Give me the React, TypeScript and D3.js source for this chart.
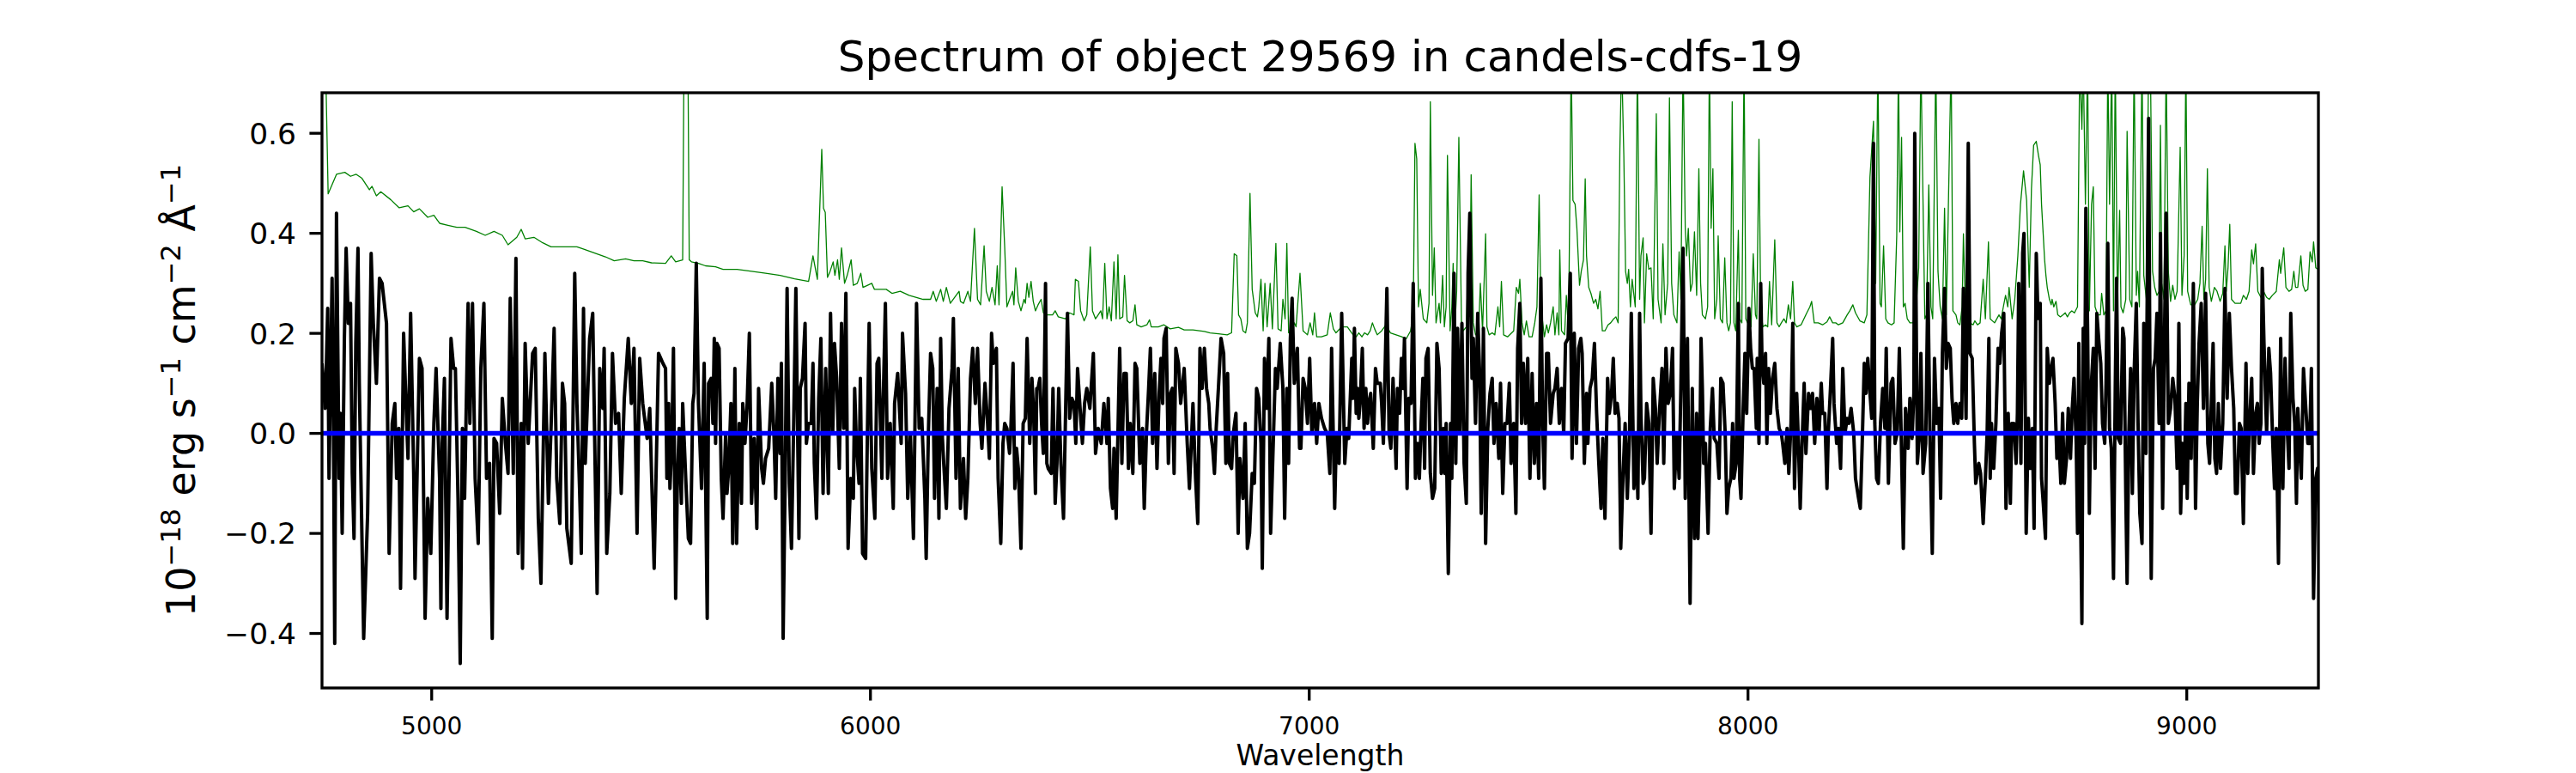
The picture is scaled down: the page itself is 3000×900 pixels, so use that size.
import * as d3 from 'd3'

// object flux (black) in six wavelength stretches
const spec4750: [number, number][] = [
  [4750, 0.14], [4757, 0.05], [4760, 0.14], [4763, 0.25], [4766, -0.09], [4773, 0.31], [4776, 0.04], [4779, -0.42],
  [4783, 0.44], [4789, -0.09], [4792, 0.04], [4796, -0.2], [4801, 0.19], [4805, 0.37], [4810, 0.22], [4815, 0.26],
  [4819, -0.08], [4823, -0.21], [4827, 0.18], [4832, 0.37], [4835, 0.1], [4845, -0.41], [4854, -0.16], [4858, 0.1],
  [4862, 0.36], [4867, 0.22], [4874, 0.1], [4881, 0.31], [4887, 0.3], [4897, 0.22], [4903, -0.24], [4910, 0.02],
  [4916, 0.06], [4920, -0.09], [4925, 0.01], [4929, -0.31], [4936, 0.2], [4943, 0.02], [4946, -0.05], [4952, 0.24],
  [4959, -0.08], [4962, -0.29], [4972, 0.15], [4978, 0.13], [4985, -0.37], [4991, -0.13], [4998, -0.24], [5005, 0.02],
  [5010, 0.13], [5018, -0.09], [5021, -0.35], [5024, -0.02], [5029, 0.11], [5035, -0.37], [5044, 0.19], [5050, 0.13],
  [5054, 0.13], [5060, -0.13], [5065, -0.46], [5070, 0.01], [5075, -0.13], [5083, 0.26], [5087, 0.02], [5093, 0.26],
  [5099, -0.09], [5106, -0.22], [5112, 0.13], [5119, 0.26], [5125, -0.09], [5132, -0.06], [5138, -0.41], [5142, -0.01],
  [5148, -0.02], [5155, -0.16], [5161, 0.07], [5168, -0.02], [5174, -0.08], [5179, 0.27], [5186, -0.08], [5192, 0.35],
  [5197, -0.24], [5204, 0.02], [5207, -0.27], [5213, 0.18], [5220, -0.02], [5230, 0.16], [5236, 0.17], [5243, -0.17],
  [5249, -0.3], [5258, 0.16], [5266, -0.14], [5272, 0.01], [5279, 0.21], [5285, -0.09], [5292, -0.18], [5298, 0.1],
  [5303, 0.06], [5308, -0.19], [5318, -0.26], [5326, 0.32], [5331, 0.06], [5337, -0.11], [5341, -0.24], [5346, 0.25],
  [5350, -0.06], [5360, 0.19], [5367, 0.24], [5377, -0.32], [5383, 0.13], [5390, 0.05], [5393, 0.17], [5399, -0.24],
  [5406, -0.12], [5412, 0.16], [5419, 0.02], [5426, 0.04], [5432, -0.12], [5439, 0.07], [5448, 0.19], [5455, 0.06],
  [5461, 0.17], [5468, -0.2], [5474, 0.15], [5481, 0.06], [5491, -0.01], [5497, 0.05], [5507, -0.27], [5517, 0.16],
  [5527, 0.14],
]

const spec5533: [number, number][] = [
  [5533, 0.13], [5536, -0.09], [5540, 0.06], [5543, -0.11], [5547, -0.03], [5551, 0.17], [5556, -0.33], [5560, -0.09],
  [5564, 0.01], [5569, -0.14], [5572, 0.06], [5579, -0.09], [5585, -0.21], [5590, -0.22], [5595, 0.06], [5598, 0.08],
  [5603, 0.34], [5608, 0.06], [5615, -0.11], [5621, 0.14], [5628, -0.37], [5631, 0.1], [5637, 0.11], [5641, 0.02],
  [5644, 0.19], [5647, -0.02], [5650, 0.18], [5655, 0.17], [5660, -0.09], [5664, -0.17], [5670, 0.0], [5673, -0.12],
  [5677, -0.07], [5682, 0.06], [5686, -0.22], [5691, 0.13], [5695, -0.22], [5697, -0.13], [5701, 0.02], [5706, -0.14],
  [5709, 0.06], [5714, -0.02], [5719, 0.06], [5724, 0.2], [5729, -0.14], [5735, -0.01], [5741, -0.19], [5745, 0.09],
  [5752, -0.07], [5756, -0.1], [5761, -0.05], [5768, -0.03], [5775, 0.1], [5780, 0.0], [5784, -0.13], [5789, 0.11],
  [5794, -0.04], [5797, 0.14], [5801, -0.41], [5806, -0.06], [5810, 0.29], [5815, -0.1], [5820, -0.23], [5825, 0.02],
  [5830, 0.29], [5837, -0.21], [5840, 0.09], [5845, 0.11], [5851, 0.22], [5854, -0.02], [5859, 0.02], [5865, 0.02],
  [5869, 0.14], [5872, -0.06], [5877, -0.17], [5882, 0.07], [5887, 0.19], [5892, -0.12], [5898, 0.13], [5904, -0.12],
  [5909, 0.24], [5914, 0.0], [5918, 0.18], [5923, 0.11], [5929, -0.07], [5934, 0.22], [5939, 0.01], [5944, 0.28],
  [5949, -0.23], [5955, -0.09], [5961, -0.13], [5964, 0.09], [5968, -0.02], [5974, -0.1], [5977, 0.11], [5982, -0.24],
  [5989, -0.25], [5993, 0.0], [5997, 0.22], [6003, -0.07], [6010, -0.17], [6015, 0.14], [6019, 0.15], [6026, -0.09],
  [6029, 0.06], [6034, 0.26], [6039, -0.09], [6045, 0.02], [6052, -0.15], [6055, 0.06], [6062, 0.12], [6070, -0.02],
  [6073, 0.2], [6080, 0.08], [6085, -0.13], [6091, 0.0], [6098, -0.21], [6105, 0.26], [6111, 0.01], [6117, 0.03],
  [6124, -0.13], [6127, -0.25], [6132, 0.0], [6137, 0.16], [6142, 0.13], [6146, -0.13], [6152, 0.09], [6156, -0.17],
  [6160, 0.19], [6164, -0.01], [6167, -0.06], [6173, -0.15], [6179, 0.05], [6186, 0.13], [6189, 0.23], [6195, -0.09],
  [6200, 0.13], [6205, -0.15], [6212, -0.05], [6217, -0.17], [6222, -0.09], [6228, 0.11], [6233, 0.17], [6239, 0.06],
  [6244, 0.17], [6250, 0.02], [6254, -0.03], [6261, 0.1], [6267, 0.02], [6271, -0.05], [6276, 0.2], [6280, 0.14],
  [6287, 0.17], [6291, -0.09], [6297, -0.22], [6302, -0.02], [6306, 0.02], [6311, 0.01],
]

const spec6317: [number, number][] = [
  [6317, -0.04], [6320, 0.01], [6325, 0.14], [6329, -0.11], [6333, -0.03], [6337, -0.07], [6343, -0.23], [6348, 0.02],
  [6353, 0.03], [6357, 0.19], [6363, -0.02], [6368, 0.11], [6372, 0.04], [6376, -0.12], [6379, 0.09], [6382, 0.09],
  [6386, 0.11], [6390, 0.02], [6394, -0.04], [6399, 0.3], [6402, -0.06], [6405, -0.07], [6412, -0.08], [6416, 0.09],
  [6421, -0.14], [6425, -0.06], [6429, 0.09], [6434, -0.06], [6440, -0.17], [6444, 0.01], [6449, 0.24], [6454, 0.03],
  [6459, 0.07], [6464, 0.06], [6468, -0.02], [6472, 0.13], [6477, 0.06], [6483, -0.02], [6488, 0.06], [6493, 0.09],
  [6500, 0.05], [6508, 0.16], [6513, -0.04], [6519, 0.01], [6526, -0.02], [6532, 0.06], [6539, -0.02], [6542, 0.07],
  [6547, -0.11], [6552, -0.15], [6555, -0.03], [6560, -0.17], [6564, 0.0], [6568, 0.17], [6573, -0.06], [6578, 0.12],
  [6583, 0.12], [6588, -0.07], [6592, 0.02], [6598, -0.08], [6603, 0.14], [6607, 0.13], [6614, -0.06], [6620, 0.01],
  [6624, -0.15], [6629, 0.0], [6634, 0.09], [6638, 0.17], [6643, -0.02], [6648, 0.12], [6653, -0.07], [6658, 0.08],
  [6662, 0.15], [6666, 0.06], [6669, 0.19], [6674, 0.21], [6679, -0.06], [6684, 0.08], [6688, 0.09], [6692, -0.08],
  [6696, 0.17], [6702, 0.14], [6707, 0.06], [6715, 0.13], [6722, -0.02], [6727, -0.11], [6735, 0.06], [6741, -0.09],
  [6746, -0.18], [6751, 0.17], [6756, 0.09], [6761, 0.17], [6766, 0.09], [6771, 0.06], [6774, 0.01], [6780, -0.03],
  [6784, -0.08], [6788, 0.01], [6793, 0.09], [6799, 0.19], [6805, 0.16], [6810, -0.06], [6814, 0.12], [6818, -0.06],
  [6823, -0.07], [6827, 0.0], [6833, 0.04], [6838, -0.2], [6842, -0.05], [6849, -0.13], [6854, 0.02], [6859, -0.23],
  [6864, -0.2], [6870, -0.08], [6875, -0.1], [6880, 0.09], [6885, 0.07], [6890, -0.02], [6893, -0.27], [6898, 0.15],
  [6903, 0.05], [6908, 0.19], [6912, -0.2], [6917, -0.05], [6923, 0.13], [6927, 0.09], [6934, 0.18], [6940, 0.09],
  [6944, -0.17], [6949, 0.09], [6953, -0.06], [6957, 0.19], [6961, 0.27], [6966, 0.1], [6973, 0.17], [6978, -0.03],
  [6981, -0.03], [6986, 0.11], [6991, 0.09], [6996, 0.02], [7001, 0.15], [7006, 0.0], [7012, 0.06], [7017, -0.02],
  [7022, 0.06], [7028, 0.03], [7035, 0.01], [7041, 0.0], [7047, -0.08], [7051, 0.17], [7058, -0.15], [7062, 0.0],
  [7068, -0.06], [7074, 0.24], [7081, -0.06], [7086, 0.01], [7090, -0.01], [7097, 0.15],
]

const spec7100: [number, number][] = [
  [7100, 0.07], [7103, 0.21], [7107, 0.04], [7110, 0.09], [7113, 0.03], [7116, 0.06], [7121, 0.17], [7125, 0.01],
  [7129, 0.09], [7133, 0.02], [7136, 0.06], [7140, 0.08], [7146, -0.03], [7151, 0.13], [7155, 0.1], [7162, 0.1],
  [7165, 0.06], [7169, -0.02], [7173, 0.13], [7177, 0.29], [7182, 0.0], [7186, -0.03], [7191, 0.11], [7198, -0.07],
  [7201, 0.09], [7206, 0.04], [7210, 0.15], [7214, 0.09], [7217, 0.19], [7223, -0.11], [7227, 0.07], [7232, 0.06],
  [7237, 0.3], [7242, -0.09], [7247, -0.02], [7251, -0.09], [7255, 0.02], [7259, 0.11], [7263, -0.07], [7266, 0.15],
  [7271, 0.17], [7276, -0.08], [7281, -0.13], [7286, -0.11], [7291, 0.18], [7296, 0.13], [7301, -0.08], [7306, 0.01],
  [7309, -0.08], [7312, 0.02], [7317, -0.28], [7322, 0.02], [7325, -0.09], [7330, 0.32], [7334, -0.06], [7338, 0.21],
  [7343, 0.0], [7348, 0.22], [7353, -0.06], [7358, -0.14], [7362, 0.32], [7366, 0.44], [7371, 0.11], [7374, 0.19],
  [7379, 0.02], [7384, 0.24], [7388, 0.13], [7392, -0.16], [7397, 0.21], [7402, -0.22], [7407, 0.01], [7412, 0.08],
  [7417, 0.11], [7421, -0.02], [7426, 0.06], [7432, -0.05], [7436, 0.1], [7441, -0.12], [7446, 0.02], [7451, 0.02],
  [7456, 0.1], [7460, -0.06], [7466, 0.02], [7471, -0.16], [7475, 0.17], [7480, 0.26], [7484, 0.02], [7488, 0.14],
  [7493, 0.02], [7498, 0.15], [7503, -0.09], [7508, 0.12], [7513, -0.06], [7518, 0.06], [7523, -0.09], [7528, 0.31],
  [7532, 0.02], [7536, -0.11], [7541, 0.16], [7545, 0.16], [7550, 0.02], [7556, 0.08], [7560, 0.09], [7565, 0.13],
  [7570, 0.02], [7575, 0.09], [7580, 0.0], [7584, 0.18], [7590, 0.19], [7595, 0.32], [7599, -0.05], [7604, 0.2],
  [7609, -0.02], [7614, 0.17], [7619, 0.19], [7622, 0.16], [7627, -0.06], [7632, 0.08], [7635, -0.02], [7640, 0.09],
  [7645, 0.11], [7650, 0.18], [7655, 0.04], [7660, -0.06], [7665, -0.15], [7669, -0.01], [7674, -0.17], [7680, 0.11],
  [7684, 0.04], [7689, 0.08], [7693, 0.15], [7697, 0.04], [7702, 0.06], [7706, 0.03], [7710, -0.23], [7715, -0.09],
  [7720, 0.02], [7725, -0.13], [7730, 0.0], [7734, 0.24], [7740, -0.11], [7745, 0.0], [7749, -0.13], [7753, 0.24],
  [7756, 0.04], [7761, -0.1], [7764, -0.09], [7769, 0.06], [7774, 0.02], [7779, -0.2], [7784, 0.11], [7789, 0.05],
  [7793, -0.06], [7798, 0.04], [7804, 0.13], [7808, -0.06], [7813, 0.17], [7818, 0.06], [7823, 0.08], [7828, 0.17],
  [7832, -0.11], [7838, 0.0], [7843, -0.09], [7847, 0.09], [7852, 0.37], [7857, -0.13], [7862, 0.19], [7868, -0.34],
  [7873, 0.09], [7878, -0.21],
]

const spec7883: [number, number][] = [
  [7883, 0.04], [7886, -0.21], [7890, -0.06], [7893, 0.19], [7896, 0.09], [7899, -0.06], [7903, -0.02], [7909, -0.2],
  [7914, 0.01], [7919, 0.09], [7923, -0.01], [7929, -0.02], [7934, -0.09], [7938, 0.11], [7943, 0.1], [7948, 0.0],
  [7952, -0.16], [7956, -0.11], [7961, -0.09], [7965, 0.02], [7968, -0.09], [7973, -0.06], [7978, 0.26], [7981, -0.09],
  [7984, -0.13], [7989, 0.05], [7993, 0.16], [7997, 0.04], [8002, 0.25], [8006, 0.17], [8010, 0.13], [8014, 0.13],
  [8019, 0.01], [8021, 0.15], [8025, -0.02], [8029, 0.3], [8032, 0.14], [8036, 0.1], [8040, 0.16], [8043, -0.02],
  [8047, 0.13], [8051, 0.04], [8056, 0.11], [8061, 0.14], [8066, 0.05], [8071, 0.01], [8076, 0.0], [8079, -0.02],
  [8084, -0.06], [8089, 0.01], [8093, -0.08], [8098, 0.02], [8102, 0.22], [8106, -0.11], [8111, 0.08], [8115, -0.02],
  [8119, -0.15], [8124, 0.0], [8128, 0.1], [8132, -0.04], [8138, 0.08], [8143, 0.05], [8147, 0.08], [8152, -0.02],
  [8157, 0.07], [8162, 0.0], [8167, 0.1], [8170, 0.04], [8175, 0.04], [8180, -0.11], [8183, 0.0], [8188, 0.09],
  [8193, 0.19], [8196, 0.06], [8202, -0.02], [8206, 0.01], [8211, -0.07], [8216, 0.13], [8221, 0.0], [8226, 0.03],
  [8230, 0.02], [8235, 0.05], [8241, 0.0], [8245, -0.09], [8252, -0.13], [8256, -0.15], [8260, -0.03], [8265, 0.14],
  [8269, 0.08], [8273, 0.15], [8278, 0.08], [8282, 0.03], [8286, 0.58], [8289, 0.02], [8293, -0.09], [8297, -0.1],
  [8302, 0.02], [8307, 0.09], [8312, 0.01], [8315, 0.17], [8320, -0.1], [8326, 0.1], [8330, 0.11], [8335, -0.02],
  [8340, 0.0], [8345, 0.17], [8350, -0.04], [8354, -0.23], [8359, 0.05], [8365, -0.03], [8369, 0.07], [8374, -0.01],
  [8378, 0.08], [8380, 0.6], [8386, -0.06], [8391, 0.0], [8394, 0.16], [8399, -0.08], [8405, -0.02], [8410, 0.3],
  [8415, -0.02], [8420, -0.24], [8425, 0.15], [8430, 0.02], [8435, 0.05], [8439, -0.13], [8443, 0.16], [8448, 0.29],
  [8452, 0.13], [8456, 0.18], [8461, 0.17], [8465, 0.07], [8469, 0.02], [8474, 0.06], [8478, 0.02], [8483, 0.06],
  [8487, 0.03], [8491, 0.29], [8497, 0.03], [8502, 0.58], [8506, 0.16], [8511, 0.15], [8516, -0.02], [8519, -0.1],
  [8526, -0.06], [8530, -0.08], [8536, -0.18], [8541, -0.09], [8545, 0.0], [8549, 0.19], [8552, -0.09], [8555, 0.02],
  [8560, -0.07], [8565, 0.02], [8570, 0.17], [8574, 0.14], [8578, 0.2], [8583, 0.24], [8588, -0.15], [8593, 0.04],
  [8598, -0.14], [8601, 0.02], [8606, 0.02], [8611, -0.06], [8614, 0.04], [8617, 0.3], [8622, -0.06], [8626, 0.36],
  [8629, 0.4], [8634, -0.2], [8639, 0.03], [8643, -0.07], [8648, 0.01], [8652, -0.19], [8657, 0.36], [8661, 0.23],
]

const spec8666: [number, number][] = [
  [8666, 0.26], [8669, -0.09], [8673, -0.14], [8678, -0.21], [8682, 0.17], [8687, 0.1], [8691, 0.13], [8695, 0.15],
  [8700, 0.06], [8704, -0.05], [8708, 0.0], [8713, -0.1], [8717, 0.04], [8721, -0.1], [8726, -0.05], [8730, 0.05],
  [8735, -0.05], [8739, 0.05], [8743, 0.11], [8748, -0.02], [8751, -0.2], [8754, 0.18], [8756, -0.01], [8761, -0.38],
  [8764, 0.21], [8767, -0.02], [8770, 0.45], [8774, 0.21], [8778, -0.16], [8782, 0.09], [8787, 0.17], [8791, -0.07],
  [8795, 0.24], [8800, 0.18], [8804, 0.14], [8808, 0.02], [8813, -0.02], [8816, 0.1], [8820, 0.38], [8824, 0.01],
  [8828, -0.03], [8833, -0.29], [8837, 0.09], [8840, 0.31], [8844, -0.01], [8849, -0.02], [8854, 0.21], [8857, 0.19],
  [8861, -0.12], [8864, -0.3], [8868, 0.0], [8872, 0.13], [8876, -0.12], [8880, 0.12], [8885, 0.26], [8889, 0.02],
  [8893, -0.16], [8898, -0.22], [8902, 0.22], [8907, -0.04], [8913, 0.63], [8917, -0.04], [8919, -0.29], [8924, 0.13],
  [8928, 0.15], [8932, 0.24], [8937, 0.02], [8940, 0.4], [8945, -0.15], [8950, 0.25], [8953, 0.44], [8958, 0.02],
  [8963, 0.05], [8968, 0.11], [8973, 0.07], [8978, -0.07], [8982, 0.22], [8986, -0.16], [8990, -0.02], [8994, -0.1],
  [8998, 0.06], [9001, -0.13], [9005, 0.1], [9010, -0.05], [9015, 0.3], [9020, -0.15], [9024, 0.06], [9028, 0.18],
  [9033, 0.26], [9038, 0.05], [9043, 0.28], [9048, -0.02], [9052, -0.06], [9056, 0.06], [9060, 0.18], [9064, -0.05],
  [9068, -0.08], [9072, 0.06], [9077, -0.07], [9082, 0.02], [9087, 0.29], [9092, 0.07], [9097, 0.24], [9102, 0.13],
  [9107, 0.05], [9111, -0.12], [9115, -0.12], [9120, 0.02], [9124, 0.01], [9129, -0.18], [9135, 0.14], [9139, -0.08],
  [9142, 0.0], [9148, 0.11], [9152, -0.08], [9157, 0.04], [9161, 0.06], [9165, -0.02], [9169, 0.02], [9172, 0.33],
  [9176, 0.18], [9182, 0.0], [9187, 0.17], [9191, 0.12], [9196, -0.02], [9200, -0.11], [9204, 0.01], [9209, -0.26],
  [9214, 0.19], [9219, -0.11], [9224, 0.15], [9229, 0.01], [9233, -0.07], [9237, 0.24], [9242, 0.07], [9246, 0.02],
  [9250, -0.14], [9253, 0.05], [9257, -0.02], [9261, -0.09], [9266, 0.13], [9272, 0.04], [9276, -0.02], [9280, -0.02],
  [9284, 0.13], [9289, -0.33], [9294, -0.09], [9298, -0.07], [9302, -0.16],
]

// noise / sky spectrum (green); sky lines running off the top are given as 0.75
const sky4750: [number, number][] = [
  [4751, 0.75], [4758, 0.75], [4764, 0.479], [4783, 0.518], [4802, 0.522], [4815, 0.514], [4828, 0.518], [4841, 0.51],
  [4858, 0.487], [4864, 0.494], [4874, 0.475], [4884, 0.483], [4907, 0.467], [4926, 0.451], [4946, 0.455], [4959, 0.443],
  [4972, 0.449], [4991, 0.432], [5005, 0.436], [5018, 0.42], [5037, 0.416], [5057, 0.412], [5076, 0.412], [5102, 0.404],
  [5122, 0.396], [5142, 0.404], [5161, 0.396], [5174, 0.377], [5194, 0.392], [5204, 0.408], [5213, 0.389], [5233, 0.392],
  [5253, 0.381], [5272, 0.373], [5305, 0.373], [5331, 0.373], [5344, 0.369], [5370, 0.361], [5396, 0.353], [5416, 0.345],
  [5442, 0.349], [5461, 0.345], [5481, 0.345], [5501, 0.341],
]

const sky5533: [number, number][] = [
  [5533, 0.34], [5546, 0.355], [5556, 0.343], [5572, 0.347], [5575, 0.75], [5584, 0.75], [5587, 0.347], [5592, 0.343],
  [5608, 0.34], [5624, 0.335], [5647, 0.333], [5664, 0.328], [5696, 0.328], [5729, 0.324], [5761, 0.32], [5794, 0.316],
  [5827, 0.309], [5859, 0.304], [5869, 0.355], [5879, 0.308], [5889, 0.568], [5893, 0.45], [5897, 0.442], [5902, 0.312],
  [5908, 0.324], [5915, 0.343], [5919, 0.316], [5925, 0.347], [5929, 0.308], [5934, 0.371], [5941, 0.3], [5947, 0.316],
  [5956, 0.347], [5961, 0.296], [5970, 0.3], [5978, 0.32], [5983, 0.292], [6003, 0.3], [6009, 0.288], [6036, 0.288],
  [6049, 0.28], [6068, 0.284], [6088, 0.276], [6120, 0.268], [6137, 0.268], [6143, 0.284], [6150, 0.264], [6160, 0.288],
  [6166, 0.264], [6173, 0.292], [6182, 0.26], [6202, 0.284], [6205, 0.264], [6212, 0.26], [6222, 0.284], [6228, 0.264],
  [6237, 0.41], [6244, 0.268], [6251, 0.257], [6259, 0.375], [6264, 0.284], [6271, 0.264], [6277, 0.292], [6284, 0.257],
  [6289, 0.335], [6293, 0.257], [6300, 0.493], [6306, 0.371], [6311, 0.253],
]

const sky6317: [number, number][] = [
  [6317, 0.268], [6324, 0.284], [6327, 0.257], [6331, 0.331], [6337, 0.264], [6343, 0.245], [6350, 0.268], [6353, 0.26],
  [6357, 0.3], [6361, 0.272], [6366, 0.304], [6371, 0.264], [6376, 0.245], [6382, 0.257], [6389, 0.268], [6394, 0.241],
  [6402, 0.237], [6415, 0.237], [6421, 0.245], [6428, 0.233], [6444, 0.229], [6454, 0.241], [6464, 0.237], [6467, 0.308],
  [6474, 0.304], [6479, 0.245], [6487, 0.225], [6493, 0.237], [6501, 0.373], [6506, 0.245], [6513, 0.229], [6519, 0.237],
  [6525, 0.245], [6529, 0.229], [6534, 0.34], [6539, 0.229], [6544, 0.253], [6549, 0.225], [6555, 0.343], [6560, 0.229],
  [6564, 0.357], [6568, 0.229], [6575, 0.233], [6579, 0.316], [6585, 0.225], [6591, 0.221], [6598, 0.225], [6603, 0.257],
  [6607, 0.217], [6617, 0.213], [6630, 0.217], [6636, 0.227], [6640, 0.213], [6656, 0.213], [6669, 0.217], [6683, 0.209],
  [6702, 0.212], [6715, 0.207], [6735, 0.207], [6761, 0.204], [6774, 0.201], [6793, 0.199], [6813, 0.197], [6823, 0.201],
  [6829, 0.359], [6835, 0.355], [6839, 0.237], [6844, 0.229], [6849, 0.205], [6855, 0.201], [6859, 0.221], [6865, 0.48],
  [6870, 0.288], [6877, 0.241], [6882, 0.233], [6885, 0.253], [6890, 0.308], [6895, 0.205], [6899, 0.3], [6904, 0.213],
  [6911, 0.3], [6916, 0.209], [6924, 0.38], [6929, 0.209], [6936, 0.205], [6940, 0.268], [6945, 0.229], [6949, 0.38],
  [6953, 0.201], [6960, 0.205], [6966, 0.221], [6970, 0.213], [6979, 0.32], [6986, 0.205], [6996, 0.197], [7002, 0.221],
  [7008, 0.197], [7012, 0.241], [7017, 0.193], [7028, 0.193], [7041, 0.197], [7048, 0.241], [7055, 0.209], [7061, 0.201],
  [7074, 0.213], [7087, 0.213],
]

const sky7100: [number, number][] = [
  [7100, 0.197], [7107, 0.193], [7113, 0.201], [7120, 0.193], [7126, 0.201], [7133, 0.197], [7139, 0.205], [7144, 0.221],
  [7149, 0.209], [7155, 0.197], [7165, 0.205], [7175, 0.217], [7185, 0.201], [7198, 0.197], [7211, 0.193], [7221, 0.189],
  [7231, 0.205], [7237, 0.237], [7241, 0.58], [7245, 0.549], [7249, 0.253], [7253, 0.288], [7260, 0.229], [7268, 0.221],
  [7273, 0.26], [7276, 0.663], [7281, 0.276], [7285, 0.371], [7289, 0.221], [7296, 0.26], [7299, 0.221], [7304, 0.316],
  [7308, 0.213], [7312, 0.253], [7315, 0.556], [7321, 0.205], [7325, 0.253], [7328, 0.34], [7332, 0.213], [7336, 0.284],
  [7341, 0.592], [7347, 0.221], [7351, 0.205], [7358, 0.213], [7362, 0.331], [7366, 0.257], [7369, 0.517], [7374, 0.221],
  [7379, 0.197], [7386, 0.205], [7390, 0.3], [7395, 0.205], [7402, 0.399], [7405, 0.213], [7410, 0.197], [7417, 0.201],
  [7423, 0.197], [7430, 0.253], [7434, 0.213], [7438, 0.304], [7443, 0.197], [7452, 0.193], [7466, 0.205], [7472, 0.292],
  [7477, 0.28], [7480, 0.308], [7485, 0.221], [7490, 0.197], [7495, 0.225], [7501, 0.193], [7508, 0.193], [7514, 0.221],
  [7519, 0.253], [7524, 0.477], [7528, 0.253], [7536, 0.193], [7541, 0.217], [7545, 0.201], [7550, 0.221], [7556, 0.253],
  [7560, 0.197], [7565, 0.241], [7569, 0.197], [7571, 0.367], [7575, 0.205], [7582, 0.197], [7586, 0.276], [7591, 0.205],
  [7597, 0.75], [7601, 0.466], [7606, 0.458], [7610, 0.41], [7616, 0.296], [7620, 0.324], [7625, 0.347], [7629, 0.509],
  [7632, 0.355], [7637, 0.292], [7642, 0.28], [7648, 0.26], [7653, 0.268], [7658, 0.249], [7663, 0.284], [7668, 0.205],
  [7674, 0.205], [7681, 0.217], [7687, 0.221], [7694, 0.229], [7699, 0.233], [7704, 0.221], [7708, 0.568], [7712, 0.75],
  [7717, 0.556], [7721, 0.324], [7725, 0.3], [7728, 0.328], [7732, 0.253], [7736, 0.308], [7743, 0.253], [7748, 0.75],
  [7753, 0.268], [7756, 0.355], [7761, 0.391], [7764, 0.221], [7769, 0.359], [7774, 0.328], [7779, 0.331], [7784, 0.229],
  [7791, 0.639], [7795, 0.268], [7802, 0.221], [7806, 0.379], [7811, 0.237], [7817, 0.3], [7821, 0.671], [7826, 0.3],
  [7831, 0.237], [7838, 0.221], [7843, 0.363], [7847, 0.268], [7852, 0.75], [7857, 0.41], [7860, 0.355], [7864, 0.41],
  [7869, 0.284], [7873, 0.3], [7878, 0.403],
]

const sky7883: [number, number][] = [
  [7883, 0.276], [7888, 0.529], [7892, 0.3], [7896, 0.237], [7903, 0.229], [7908, 0.253], [7912, 0.75], [7916, 0.41],
  [7920, 0.529], [7924, 0.229], [7929, 0.268], [7932, 0.395], [7937, 0.229], [7942, 0.221], [7947, 0.351], [7952, 0.221],
  [7956, 0.205], [7960, 0.221], [7964, 0.663], [7968, 0.221], [7972, 0.205], [7978, 0.406], [7981, 0.229], [7986, 0.221],
  [7991, 0.75], [7995, 0.229], [7999, 0.221], [8007, 0.213], [8012, 0.359], [8017, 0.237], [8020, 0.229], [8025, 0.588],
  [8029, 0.245], [8034, 0.213], [8040, 0.217], [8045, 0.213], [8049, 0.304], [8054, 0.217], [8061, 0.387], [8066, 0.221],
  [8071, 0.213], [8076, 0.221], [8082, 0.229], [8087, 0.221], [8092, 0.257], [8097, 0.229], [8102, 0.304], [8106, 0.221],
  [8111, 0.213], [8121, 0.217], [8134, 0.241], [8141, 0.253], [8145, 0.264], [8151, 0.221], [8160, 0.221], [8170, 0.217],
  [8180, 0.223], [8186, 0.233], [8193, 0.221], [8200, 0.221], [8206, 0.217], [8216, 0.221], [8226, 0.237], [8232, 0.245],
  [8239, 0.257], [8245, 0.241], [8255, 0.225], [8265, 0.221], [8271, 0.237], [8278, 0.513], [8282, 0.568], [8286, 0.624],
  [8291, 0.3], [8296, 0.75], [8301, 0.26], [8304, 0.253], [8309, 0.375], [8314, 0.229], [8319, 0.221], [8327, 0.217],
  [8333, 0.221], [8339, 0.395], [8343, 0.75], [8346, 0.403], [8350, 0.592], [8354, 0.253], [8358, 0.26], [8363, 0.229],
  [8369, 0.221], [8376, 0.221], [8382, 0.237], [8389, 0.331], [8394, 0.75], [8399, 0.458], [8403, 0.229], [8407, 0.237],
  [8412, 0.497], [8417, 0.253], [8421, 0.229], [8428, 0.75], [8433, 0.324], [8438, 0.253], [8443, 0.229], [8448, 0.45],
  [8452, 0.237], [8457, 0.47], [8463, 0.75], [8467, 0.245], [8474, 0.237], [8478, 0.221], [8483, 0.217], [8488, 0.253],
  [8491, 0.399], [8495, 0.26], [8500, 0.225], [8506, 0.221], [8513, 0.217], [8517, 0.225], [8523, 0.217], [8529, 0.221],
  [8536, 0.308], [8541, 0.229], [8548, 0.383], [8552, 0.229], [8562, 0.221], [8572, 0.237], [8577, 0.229], [8582, 0.253],
  [8587, 0.276], [8592, 0.253], [8595, 0.292], [8602, 0.229], [8608, 0.268], [8615, 0.355], [8621, 0.458], [8628, 0.525],
  [8635, 0.466], [8641, 0.292], [8646, 0.489], [8651, 0.576], [8657, 0.584], [8662, 0.556],
]

const sky8666: [number, number][] = [
  [8666, 0.537], [8669, 0.458], [8673, 0.395], [8676, 0.347], [8679, 0.316], [8682, 0.292], [8687, 0.268], [8691, 0.257],
  [8693, 0.268], [8697, 0.253], [8702, 0.264], [8706, 0.237], [8712, 0.233], [8718, 0.237], [8723, 0.241], [8728, 0.233],
  [8733, 0.241], [8738, 0.245], [8744, 0.241], [8751, 0.253], [8756, 0.75], [8761, 0.608], [8764, 0.75], [8769, 0.458],
  [8774, 0.75], [8778, 0.245], [8783, 0.458], [8787, 0.493], [8791, 0.253], [8797, 0.237], [8803, 0.237], [8806, 0.28],
  [8811, 0.237], [8816, 0.245], [8820, 0.75], [8824, 0.458], [8829, 0.75], [8833, 0.245], [8837, 0.75], [8842, 0.253],
  [8847, 0.446], [8850, 0.253], [8855, 0.241], [8861, 0.268], [8864, 0.604], [8870, 0.268], [8875, 0.253], [8880, 0.75],
  [8885, 0.276], [8888, 0.324], [8892, 0.253], [8898, 0.75], [8902, 0.316], [8908, 0.268], [8913, 0.75], [8917, 0.75],
  [8922, 0.324], [8927, 0.292], [8932, 0.276], [8937, 0.284], [8940, 0.616], [8943, 0.3], [8948, 0.268], [8953, 0.75],
  [8958, 0.324], [8963, 0.264], [8968, 0.296], [8973, 0.268], [8978, 0.284], [8985, 0.572], [8989, 0.276], [8994, 0.355],
  [8998, 0.75], [9002, 0.284], [9009, 0.257], [9018, 0.257], [9025, 0.268], [9030, 0.3], [9035, 0.414], [9039, 0.268],
  [9043, 0.308], [9047, 0.529], [9051, 0.292], [9056, 0.264], [9063, 0.292], [9069, 0.284], [9076, 0.264], [9082, 0.28],
  [9087, 0.375], [9090, 0.284], [9094, 0.331], [9098, 0.418], [9102, 0.268], [9110, 0.26], [9123, 0.26], [9129, 0.276],
  [9136, 0.268], [9142, 0.284], [9148, 0.367], [9152, 0.339], [9157, 0.379], [9162, 0.284], [9169, 0.272], [9175, 0.284],
  [9182, 0.272], [9188, 0.268], [9195, 0.276], [9204, 0.284], [9211, 0.347], [9214, 0.32], [9221, 0.371], [9226, 0.292],
  [9233, 0.284], [9239, 0.288], [9244, 0.324], [9248, 0.292], [9253, 0.292], [9260, 0.355], [9265, 0.296], [9270, 0.284],
  [9276, 0.288], [9281, 0.363], [9286, 0.343], [9289, 0.383], [9294, 0.331], [9299, 0.328], [9302, 0.328],
]

const xTicks = [5000, 6000, 7000, 8000, 9000]
const yTicks = [-0.4, -0.2, 0.0, 0.2, 0.4, 0.6]
const xDomain: [number, number] = [4750, 9300]
const yDomain: [number, number] = [-0.509, 0.681]

const titleText = 'Spectrum of object 29569 in candels-cdfs-19'
const xLabelText = 'Wavelength'

const W = 3000
const H = 900
const box = { left: 375, right: 2700, top: 108, bottom: 801 }
const FONT = 'DejaVu Sans, sans-serif'

export default function App() {
  const spectrum = [...spec4750, ...spec5533, ...spec6317, ...spec7100, ...spec7883, ...spec8666]
  const sky = [...sky4750, ...sky5533, ...sky6317, ...sky7100, ...sky7883, ...sky8666]

  const x = d3.scaleLinear().domain(xDomain).range([box.left, box.right])
  const y = d3.scaleLinear().domain(yDomain).range([box.bottom, box.top])

  const line = d3.line<[number, number]>()
    .x(d => x(d[0]))
    .y(d => y(d[1]))

  const fmtY = d3.format('.1f')
  const tickLen = 14.6
  const sup = 17

  return (
    <svg width={W} height={H} viewBox={`0 0 ${W} ${H}`}
      style={{ position: 'fixed', left: 0, top: 0, background: '#fff' }}
      fontFamily={FONT}>
      <defs>
        <clipPath id="plot-area">
          <rect x={box.left} y={box.top} width={box.right - box.left} height={box.bottom - box.top} />
        </clipPath>
      </defs>
      <rect x={0} y={0} width={W} height={H} fill="#fff" />

      <g clipPath="url(#plot-area)">
        <path d={line(sky) ?? ''} fill="none" stroke="#008000" strokeWidth={1.3} strokeLinejoin="round" />
        <path d={line(spectrum) ?? ''} fill="none" stroke="#000" strokeWidth={4} strokeLinejoin="round" />
        <line x1={box.left} x2={box.right} y1={y(0)} y2={y(0)} stroke="#0000ff" strokeWidth={5.5} />
      </g>

      {/* spines */}
      <rect x={box.left} y={box.top} width={box.right - box.left} height={box.bottom - box.top}
        fill="none" stroke="#000" strokeWidth={3.3} />

      {/* x axis */}
      {xTicks.map(t => (
        <g key={t}>
          <line x1={x(t)} x2={x(t)} y1={box.bottom} y2={box.bottom + tickLen} stroke="#000" strokeWidth={3.3} />
          <text x={x(t)} y={855} textAnchor="middle" fontSize={28}>{t}</text>
        </g>
      ))}
      <text x={(box.left + box.right) / 2} y={891} textAnchor="middle" fontSize={33}>{xLabelText}</text>

      {/* y axis */}
      {yTicks.map(t => (
        <g key={t}>
          <line x1={box.left - tickLen} x2={box.left} y1={y(t)} y2={y(t)} stroke="#000" strokeWidth={3.3} />
          <text x={345} y={y(t)} dy="0.36em" textAnchor="end" fontSize={34.5}>{fmtY(t)}</text>
        </g>
      ))}
      <text transform={`translate(227,${(box.top + box.bottom) / 2}) rotate(-90)`} textAnchor="middle" fontSize={46}>
        10<tspan dy={-sup} fontSize={32}>−18</tspan>
        <tspan dy={sup}> erg s</tspan><tspan dy={-sup} fontSize={32}>−1</tspan>
        <tspan dy={sup}> cm</tspan><tspan dy={-sup} fontSize={32}>−2</tspan>
        <tspan dy={sup}> Å</tspan><tspan dy={-sup} fontSize={32}>−1</tspan>
      </text>

      <text x={(box.left + box.right) / 2} y={83} textAnchor="middle" fontSize={50}>{titleText}</text>
    </svg>
  )
}
